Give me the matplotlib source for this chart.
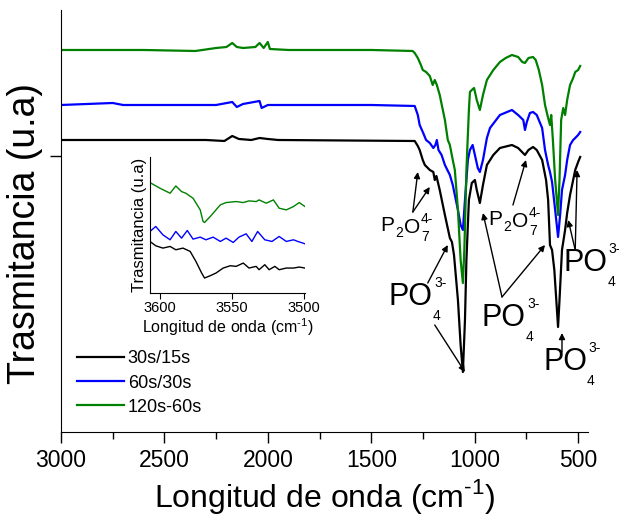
import numpy as np
import matplotlib
matplotlib.use("Agg")
import matplotlib.pyplot as plt

plt.rcParams['font.family'] = ['Liberation Sans', 'DejaVu Sans']
plt.rcParams['mathtext.fontset'] = 'custom'
plt.rcParams['mathtext.rm'] = 'Liberation Sans'

# ---------- datos: espectro completo (cm-1, transmitancia u.a.) ----------
w_black = [3000, 2300, 2210, 2172, 2140, 2080, 2040, 2000, 1950, 1290,
           1275, 1266, 1251, 1241, 1217, 1200, 1193, 1185, 1169, 1144,
           1120, 1110, 1100, 1081, 1068, 1057, 1047, 1040, 1028, 1014,
           999, 990, 975, 960, 941, 910, 878, 820, 790, 757,
           740, 718, 700, 674, 655, 645, 636, 626, 615, 597,
           590, 578, 563, 553, 539, 514, 500, 490]
t_black = [312, 312, 311, 316, 313, 312, 314, 313, 312, 311,
           306, 302, 292, 287, 282, 280, 272, 276, 262, 237,
           214, 210, 197, 152, 107, 80, 132, 192, 252, 269,
           272, 262, 249, 267, 287, 297, 304, 307, 304, 297,
           302, 305, 302, 292, 272, 252, 207, 202, 182, 125,
           152, 202, 222, 239, 257, 282, 290, 295]

w_blue = [3000, 2750, 2700, 2250, 2172, 2150, 2120, 2040, 2030, 2000,
          1500, 1290, 1275, 1266, 1251, 1235, 1217, 1200, 1190, 1183,
          1175, 1160, 1144, 1120, 1106, 1096, 1081, 1068, 1057, 1047,
          1033, 1023, 1010, 999, 985, 975, 960, 941, 926, 878,
          820, 790, 765, 757, 748, 733, 718, 700, 674, 660,
          645, 636, 626, 611, 597, 587, 578, 563, 553, 539,
          524, 514, 500, 490]
t_blue = [347, 349, 347, 347, 350, 345, 348, 351, 344, 347,
          347, 346, 337, 327, 320, 312, 309, 304, 307, 312,
          302, 297, 287, 277, 267, 257, 242, 227, 222, 252,
          292, 302, 307, 297, 284, 280, 292, 314, 324, 337,
          342, 337, 332, 322, 330, 339, 340, 337, 324, 302,
          287, 280, 270, 242, 215, 237, 262, 277, 292, 307,
          312, 314, 317, 320]

w_green = [3000, 2600, 2350, 2250, 2200, 2172, 2150, 2120, 2060, 2040,
           2020, 2000, 1990, 1900, 1500, 1300, 1290, 1275, 1260, 1251,
           1235, 1217, 1203, 1193, 1183, 1169, 1144, 1130, 1120, 1106,
           1096, 1081, 1068, 1057, 1050, 1040, 1028, 1023, 1014, 1003,
           990, 975, 960, 941, 910, 878, 850, 820, 790, 770,
           757, 740, 718, 705, 690, 674, 660, 645, 636, 630,
           622, 611, 597, 590, 582, 572, 563, 553, 539, 524,
           514, 500, 490]
t_green = [402, 402, 401, 404, 405, 409, 405, 404, 405, 409,
           404, 410, 403, 402, 402, 401, 399, 394, 387, 382,
           380, 376, 367, 372, 367, 357, 332, 312, 307, 292,
           282, 242, 192, 169, 202, 282, 342, 360, 362, 364,
           352, 342, 357, 372, 382, 390, 394, 397, 395, 390,
           389, 394, 395, 392, 382, 367, 347, 334, 327, 337,
           312, 272, 237, 272, 332, 344, 337, 352, 367, 374,
           380, 382, 386]

# ---------- datos: recuadro 3600-3500 cm-1 ----------
wi_green = [3607, 3600, 3593, 3589, 3585, 3582, 3577, 3572, 3570, 3569,
            3565, 3558, 3554, 3547, 3542, 3538, 3533, 3531, 3526, 3521,
            3517, 3512, 3507, 3503, 3499]
ti_green = [332, 315, 300, 322, 305, 300, 285, 250, 215, 212,
            230, 265, 272, 275, 272, 277, 275, 280, 270, 280,
            255, 250, 260, 272, 260]
wi_blue = [3607, 3603, 3598, 3593, 3589, 3585, 3581, 3577, 3572, 3568,
           3563, 3558, 3554, 3549, 3545, 3540, 3536, 3532, 3527, 3522,
           3517, 3512, 3507, 3504, 3499]
ti_blue = [185, 200, 175, 160, 185, 165, 188, 162, 168, 160,
           168, 155, 165, 152, 168, 178, 155, 185, 160, 155,
           170, 155, 160, 155, 148]
wi_black = [3607, 3603, 3598, 3593, 3589, 3584, 3579, 3575, 3571, 3569,
            3565, 3561, 3556, 3551, 3547, 3542, 3538, 3533, 3531, 3527,
            3524, 3520, 3517, 3512, 3507, 3503, 3499]
ti_black = [155, 142, 135, 140, 130, 135, 125, 95, 60, 45,
            52, 60, 75, 82, 80, 90, 75, 80, 70, 85,
            70, 80, 70, 75, 75, 78, 75]

labels = ['30s/15s', '60s/30s', '120s-60s']
colors = ['#000000', '#0000ff', '#008000']
xlab = r'Longitud de onda (cm$^{\text{-}1}$)'

fig = plt.figure(figsize=(6.19, 5.23), dpi=100)
ax = fig.add_axes([0.0985, 0.174, 0.8515, 0.8069])

ax.plot(w_black, t_black, color=colors[0], lw=1.6, label=labels[0])
ax.plot(w_blue, t_blue, color=colors[1], lw=1.6, label=labels[1])
ax.plot(w_green, t_green, color=colors[2], lw=1.6, label=labels[2])

ax.set_xlim(3000, 452)
ax.set_ylim(20, 442)
ax.set_xticks([3000, 2500, 2000, 1500, 1000, 500])
ax.set_xticks([2750, 2250, 1750, 1250, 750], minor=True)
ax.set_yticks([296])
ax.set_yticklabels([''])
ax.tick_params(axis='x', which='major', direction='out', length=8, width=1, labelsize=16.5, pad=4)
ax.tick_params(axis='x', which='minor', direction='out', length=5, width=1)
ax.tick_params(axis='y', direction='out', length=8, width=1)
for s in ['top', 'right']:
    ax.spines[s].set_visible(False)
ax.set_xlabel(xlab, fontsize=23, labelpad=4)
ax.set_ylabel('Trasmitancia (u.a)', fontsize=27, va='center')
ax.yaxis.set_label_coords(-0.068, 0.47)

ax.legend(loc='lower left', bbox_to_anchor=(0.0, 0.0), frameon=False, fontsize=13,
          handlelength=2.6, handletextpad=0.2, labelspacing=0.4)

# ---------- anotaciones ----------
arrow = dict(arrowstyle='-|>', color='k', lw=1, mutation_scale=9, shrinkA=0, shrinkB=0)


def small(txt, ref, xy, dx, dy, va):
    return ax.annotate(txt, xy=xy, xycoords=ref, xytext=(dx, dy), textcoords='offset points',
                       fontsize=10, ha='left', va=va)


def ion(x, y, sub, sup, size=22):
    t = ax.text(x, y, 'PO', fontsize=size, ha='center', va='center')
    small(sup, t, (1, 1), 1, -1, 'center')
    small(sub, t, (1, 0), 0, -3, 'center')


def pyro(x, y, size=15):
    p = ax.text(x, y, 'P', fontsize=size, ha='right', va='center')
    two = small('2', p, (1, 0), 0.5, 2, 'center')
    o = ax.annotate('O', xy=(1, 0.5), xycoords=two, xytext=(0.5, 4), textcoords='offset points',
                    fontsize=size, ha='left', va='center')
    small('7', o, (1, 0), 0.5, 0, 'center')
    small('4-', o, (1, 1), 0.5, -1, 'center')


pyro(1387, 226)
ax.annotate('', xy=(1275, 280), xytext=(1299, 240), arrowprops=arrow)
ax.annotate('', xy=(1217, 265), xytext=(1299, 240), arrowprops=arrow)

ion(1309, 155, '4', '3-')
ax.annotate('', xy=(1130, 207), xytext=(1227, 169), arrowprops=arrow)
ax.annotate('', xy=(1047, 80), xytext=(1193, 127), arrowprops=arrow)

pyro(865, 232)
ax.annotate('', xy=(752, 292), xytext=(815, 247), arrowprops=arrow)

ion(859, 134, '4', '3-')
ax.annotate('', xy=(960, 239), xytext=(868, 155), arrowprops=arrow)
ax.annotate('', xy=(660, 207), xytext=(868, 155), arrowprops=arrow)

ion(466, 189, '4', '3-')
ax.annotate('', xy=(505, 282), xytext=(514, 202), arrowprops=arrow)
ax.annotate('', xy=(548, 232), xytext=(514, 202), arrowprops=arrow)

ion(563, 90, '4', '3-')
ax.annotate('', xy=(578, 119), xytext=(578, 100), arrowprops=arrow)

# ---------- recuadro ----------
axi = fig.add_axes([0.2423, 0.4398, 0.2504, 0.26])
axi.plot(wi_black, ti_black, color=colors[0], lw=1)
axi.plot(wi_blue, ti_blue, color=colors[1], lw=1)
axi.plot(wi_green, ti_green, color=colors[2], lw=1)
axi.set_xlim(3607, 3499)
axi.set_ylim(0, 409)
axi.set_xticks([3600, 3550, 3500])
axi.set_yticks([])
axi.tick_params(axis='x', direction='out', length=4, width=0.8, labelsize=10.5, pad=2)
for s in ['top', 'right']:
    axi.spines[s].set_visible(False)
axi.patch.set_alpha(0)
axi.set_xlabel(xlab, fontsize=11.5, labelpad=1)
axi.set_ylabel('Trasmitancia (u.a)', fontsize=12, labelpad=2)

fig.savefig('out.png', dpi=100)
